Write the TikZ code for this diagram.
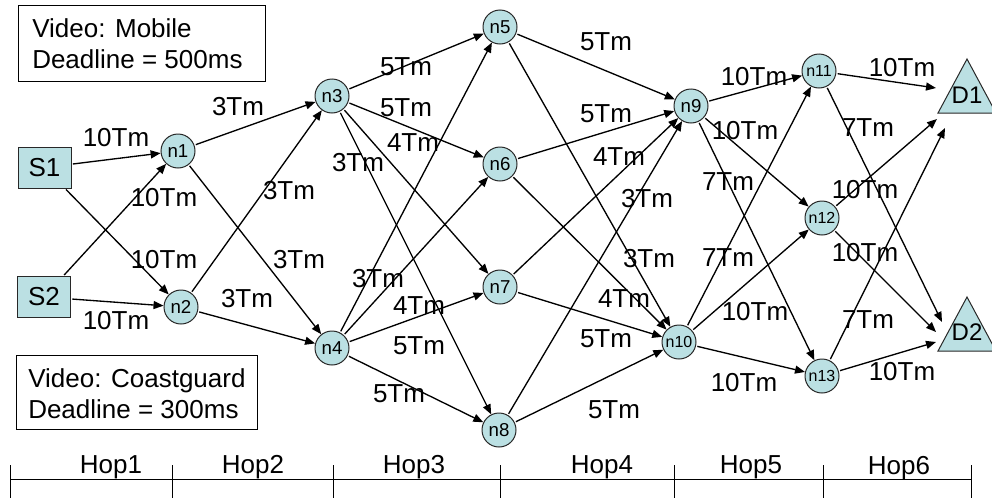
\documentclass[tikz,border=0pt]{standalone}
\usepackage{fontspec}
\setmainfont{Liberation Sans}
\usetikzlibrary{arrows.meta}
\definecolor{nodefill}{RGB}{187,224,227}
\definecolor{nodeline}{RGB}{40,40,40}
\begin{document}
\begin{tikzpicture}[x=0.75pt,y=-0.75pt,
  font=\fontsize{19.5}{23}\selectfont,
  relay/.style={circle,draw=nodeline,fill=nodefill,line width=0.75pt,
    minimum size=25.5pt,inner sep=0pt,font=\fontsize{14}{14}\selectfont},
  relaysmall/.style={relay,font=\fontsize{12}{12}\selectfont},
  source/.style={rectangle,draw=nodeline,fill=nodefill,line width=0.75pt,
    minimum width=39.75pt,minimum height=30.75pt,inner sep=0pt},
  link/.style={line width=1pt,-{Triangle[length=7.5pt,width=6pt]},shorten <=1pt},
  cost/.style={inner sep=0pt},
  sink/.style={fill=nodefill,draw=nodeline,line width=0.75pt},
  axis/.style={line width=0.75pt}
]
\useasboundingbox (0,0) rectangle (992,500);

% info boxes
\draw[line width=0.75pt] (18,5) rectangle (265,81);
\node[anchor=west,align=left,inner sep=0pt] (vidA) at (32,44) {Video: Mobile\\Deadline = 500ms};
\draw[line width=0.75pt] (16,355) rectangle (257,429);
\node[anchor=west,align=left,inner sep=0pt] (vidB) at (28,394) {Video: Coastguard\\Deadline = 300ms};

% sources
\node[source] (S1) at (44.5,167.5) {S1};
\node[source] (S2) at (44,297) {S2};

% relays
\node[relay] (n1) at (178,151) {n1};
\node[relay] (n2) at (181,307) {n2};
\node[relay] (n3) at (332,96) {n3};
\node[relay] (n4) at (332,348) {n4};
\node[relay] (n5) at (500,27) {n5};
\node[relay] (n6) at (500,164) {n6};
\node[relay] (n7) at (500,287) {n7};
\node[relay] (n8) at (499,430) {n8};
\node[relay] (n9) at (691,106) {n9};
\node[relaysmall] (n10) at (679,342) {n10};
\node[relaysmall] (n11) at (819,71) {n11};
\node[relaysmall] (n12) at (822,218) {n12};
\node[relaysmall] (n13) at (822,376) {n13};

% destinations
\filldraw[sink] (967,59) -- (996,113) -- (938,113) -- cycle;
\node[inner sep=0pt,font=\fontsize{18}{18}\selectfont] (D1) at (967,95) {D1};
\filldraw[sink] (967,297) -- (996,351) -- (938,351) -- cycle;
\node[inner sep=0pt,font=\fontsize{18}{18}\selectfont] (D2) at (967,332) {D2};
\coordinate (D1a) at (936,88);
\coordinate (D1b) at (937,119);
\coordinate (D1c) at (945,128);
\coordinate (D2a) at (942,322);
\coordinate (D2b) at (936,332);
\coordinate (D2c) at (936,342);

% links
\draw[link] (S1) -- (n1);
\draw[link] (S1) -- (n2);
\draw[link] (S2) -- (n1);
\draw[link] (S2) -- (n2);
\foreach \a in {n1,n2} \foreach \b in {n3,n4} \draw[link] (\a) -- (\b);
\foreach \a in {n3,n4} \foreach \b in {n5,n6,n7,n8} \draw[link] (\a) -- (\b);
\foreach \a in {n5,n6,n7,n8} \foreach \b in {n9,n10} \draw[link] (\a) -- (\b);
\foreach \a in {n9,n10} \foreach \b in {n11,n12,n13} \draw[link] (\a) -- (\b);
\draw[link] (n11) -- (D1a);
\draw[link] (n12) -- (D1b);
\draw[link] (n13) -- (D1c);
\draw[link] (n11) -- (D2a);
\draw[link] (n12) -- (D2b);
\draw[link] (n13) -- (D2c);

% link costs
\node[cost] (c1) at (116,138) {10Tm};
\node[cost] (c2) at (164,260) {10Tm};
\node[cost] (c3) at (164,198) {10Tm};
\node[cost] (c4) at (116,321) {10Tm};
\node[cost] (c5) at (238,107) {3Tm};
\node[cost] (c6) at (289,191) {3Tm};
\node[cost] (c7) at (299,260) {3Tm};
\node[cost] (c8) at (247,299) {3Tm};
\node[cost] (c9) at (406,67) {5Tm};
\node[cost] (c10) at (406,108) {5Tm};
\node[cost] (c11) at (413,143) {4Tm};
\node[cost] (c12) at (358,163) {3Tm};
\node[cost] (c13) at (378,279) {3Tm};
\node[cost] (c14) at (419,306) {4Tm};
\node[cost] (c15) at (419,346) {5Tm};
\node[cost] (c16) at (399,394) {5Tm};
\node[cost] (c17) at (606,42) {5Tm};
\node[cost] (c18) at (606,114) {5Tm};
\node[cost] (c19) at (619,157) {4Tm};
\node[cost] (c20) at (647,199) {3Tm};
\node[cost] (c21) at (649,259) {3Tm};
\node[cost] (c22) at (624,299) {4Tm};
\node[cost] (c23) at (606,339) {5Tm};
\node[cost] (c24) at (614,410) {5Tm};
\node[cost] (c25) at (754,77) {10Tm};
\node[cost] (c26) at (745,131) {10Tm};
\node[cost] (c27) at (728,182) {7Tm};
\node[cost] (c28) at (728,258) {7Tm};
\node[cost] (c29) at (755,312) {10Tm};
\node[cost] (c30) at (744,383) {10Tm};
\node[cost] (c31) at (902,68) {10Tm};
\node[cost] (c32) at (868,128) {7Tm};
\node[cost] (c33) at (865,190) {10Tm};
\node[cost] (c34) at (865,253) {10Tm};
\node[cost] (c35) at (868,320) {7Tm};
\node[cost] (c36) at (902,372) {10Tm};

% hop axis
\coordinate (t0) at (10,479);
\coordinate (t6) at (971,479);
\draw[axis] (t0) -- (t6);
\foreach \x in {10,172,333,500,674,823,971} \draw[axis] (\x,465) -- (\x,498);
\node[cost] (hop1) at (111,467) {Hop1};
\node[cost] (hop2) at (253,467) {Hop2};
\node[cost] (hop3) at (414,467) {Hop3};
\node[cost] (hop4) at (602,467) {Hop4};
\node[cost] (hop5) at (751,467) {Hop5};
\node[cost] (hop6) at (899,468) {Hop6};
\end{tikzpicture}
\end{document}
